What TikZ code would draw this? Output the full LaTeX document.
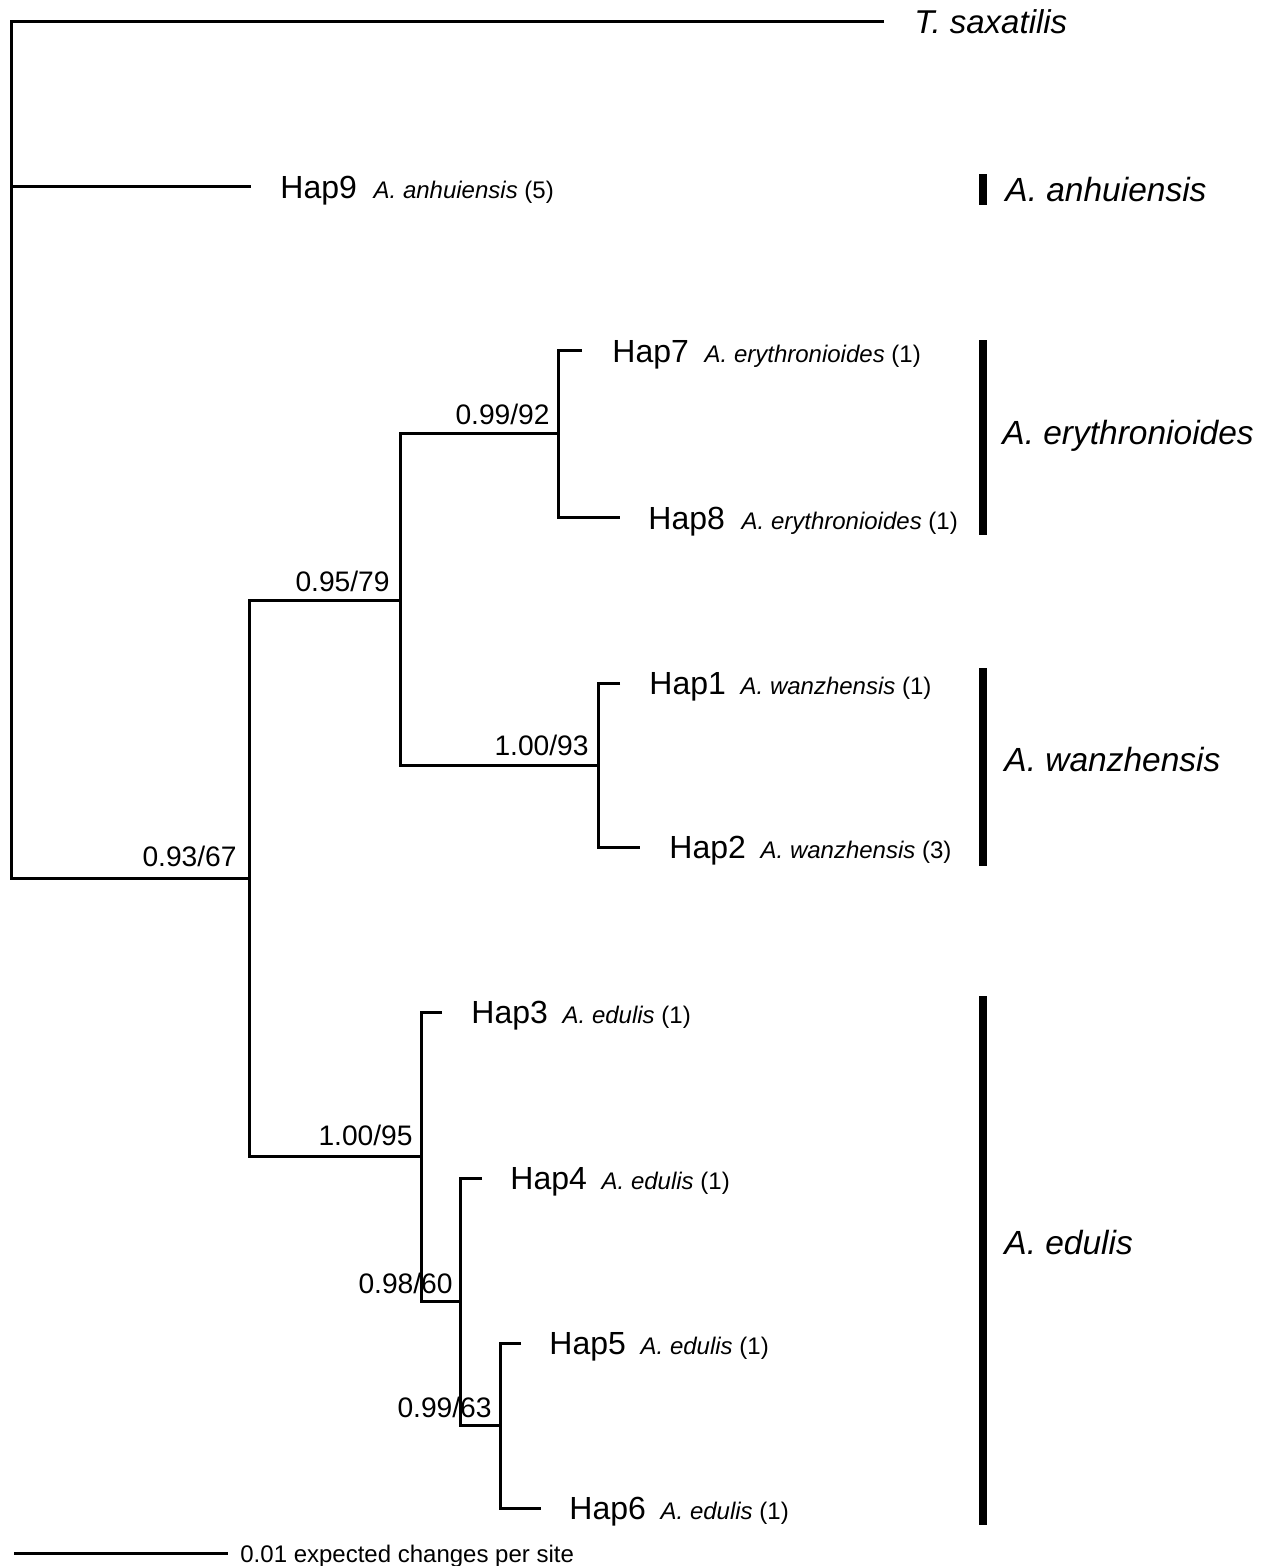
\documentclass[tikz,border=0pt]{standalone}
\usepackage{fontspec}
\setmainfont{Liberation Sans}
\usetikzlibrary{calc}
\begin{document}
\begin{tikzpicture}[x=0.5pt,y=-0.5pt,
  branch/.style={line width=1.5pt, line join=miter, line cap=butt},
  clbar/.style={fill=black},
  haplab/.style={anchor=base west, inner sep=0pt, font=\fontsize{16}{19}\selectfont},
  splab/.style={anchor=base west, inner sep=0pt, font=\fontsize{12}{14}\selectfont},
  supp/.style={anchor=base east, inner sep=0pt, font=\fontsize{14.1}{17}\selectfont},
  cladelab/.style={anchor=base west, inner sep=0pt, font=\fontsize{16.75}{20}\selectfont\itshape},
  scalelab/.style={anchor=base west, inner sep=0pt, font=\fontsize{12}{14}\selectfont}]
\useasboundingbox (0,0) rectangle (1268,1566);
% internal nodes
\coordinate (R) at (11,187);
\coordinate (A) at (249,878);
\coordinate (B) at (400,600);
\coordinate (C) at (558,434);
\coordinate (D) at (598,765);
\coordinate (E) at (421,1156);
\coordinate (F) at (460,1301);
\coordinate (G) at (500,1425);
% tips
\coordinate (tT) at (884,22);
\coordinate (t9) at (251,187);
\coordinate (t7) at (582,351);
\coordinate (t8) at (620,518);
\coordinate (t1) at (620,683);
\coordinate (t2) at (640,847);
\coordinate (t3) at (442,1012);
\coordinate (t4) at (482,1178);
\coordinate (t5) at (521,1343);
\coordinate (t6) at (541,1508);
% branches
\draw[branch] (tT) -| (R) |- (A);
\draw[branch] (R) -- (t9);
\draw[branch] (B) -| (A) |- (E);
\draw[branch] (C) -| (B) |- (D);
\draw[branch] (t7) -| (C) |- (t8);
\draw[branch] (t1) -| (D) |- (t2);
\draw[branch] (t3) -| (E) |- (F);
\draw[branch] (t4) -| (F) |- (G);
\draw[branch] (t5) -| (G) |- (t6);
% tip labels
\node[haplab, font=\fontsize{16.5}{19}\selectfont\itshape] (lT) at ($(tT)+(30,11.5)$) {T. saxatilis};
\node[haplab] (h9) at ($(t9)+(29,11.5)$) {Hap9};
\node[splab] (s9) at ([xshift=8pt]h9.base east) {\textit{A. anhuiensis} (5)};
\node[haplab] (h7) at ($(t7)+(30,11.5)$) {Hap7};
\node[splab] (s7) at ([xshift=7.5pt]h7.base east) {\textit{A. erythronioides} (1)};
\node[haplab] (h8) at ($(t8)+(28,11.5)$) {Hap8};
\node[splab] (s8) at ([xshift=8pt]h8.base east) {\textit{A. erythronioides} (1)};
\node[haplab] (h1) at ($(t1)+(29,11.5)$) {Hap1};
\node[splab] (s1) at ([xshift=7pt]h1.base east) {\textit{A. wanzhensis} (1)};
\node[haplab] (h2) at ($(t2)+(29,11.5)$) {Hap2};
\node[splab] (s2) at ([xshift=7pt]h2.base east) {\textit{A. wanzhensis} (3)};
\node[haplab] (h3) at ($(t3)+(29,11.5)$) {Hap3};
\node[splab] (s3) at ([xshift=7pt]h3.base east) {\textit{A. edulis} (1)};
\node[haplab] (h4) at ($(t4)+(28,11.5)$) {Hap4};
\node[splab] (s4) at ([xshift=7pt]h4.base east) {\textit{A. edulis} (1)};
\node[haplab] (h5) at ($(t5)+(28,11.5)$) {Hap5};
\node[splab] (s5) at ([xshift=7pt]h5.base east) {\textit{A. edulis} (1)};
\node[haplab] (h6) at ($(t6)+(28,11.5)$) {Hap6};
\node[splab] (s6) at ([xshift=7pt]h6.base east) {\textit{A. edulis} (1)};
% support values
\node[supp] (pA) at ($(A)+(-12,-12)$) {0.93/67};
\node[supp] (pB) at ($(B)+(-10,-9)$) {0.95/79};
\node[supp] (pC) at ($(C)+(-8,-9)$) {0.99/92};
\node[supp] (pD) at ($(D)+(-9,-10)$) {1.00/93};
\node[supp] (pE) at ($(E)+(-8,-11)$) {1.00/95};
\node[supp] (pF) at ($(F)+(-7,-8)$) {0.98/60};
\node[supp] (pG) at ($(G)+(-8,-8)$) {0.99/63};
% clade bars
\fill[clbar] (979,174) rectangle (987,205);
\fill[clbar] (979,340) rectangle (987,535);
\fill[clbar] (979,668) rectangle (987,866);
\fill[clbar] (979,996) rectangle (987,1525);
\node[cladelab] (cAn) at (1005,202) {A. anhuiensis};
\node[cladelab] (cEr) at (1002,445) {A. erythronioides};
\node[cladelab] (cWa) at (1004,771) {A. wanzhensis};
\node[cladelab] (cEd) at (1004,1254) {A. edulis};
% scale bar
\coordinate (sb1) at (14,1553);
\coordinate (sb2) at (228,1553);
\draw[branch] (sb1) -- (sb2);
\node[scalelab] (sbl) at (240,1562) {0.01 expected changes per site};
\end{tikzpicture}
\end{document}
